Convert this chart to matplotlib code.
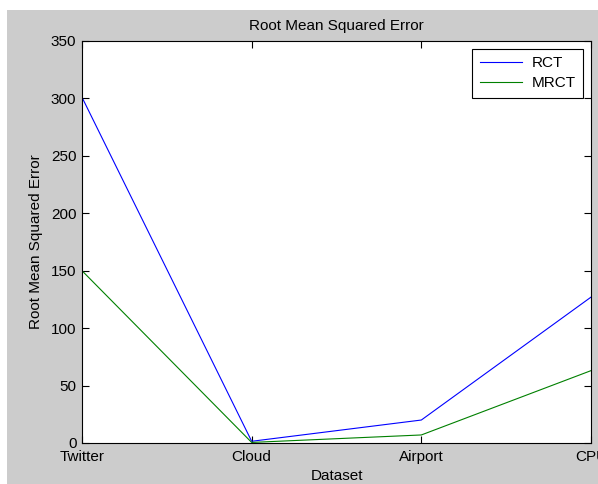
import matplotlib
matplotlib.use("Agg")
import matplotlib.pyplot as plt
from matplotlib.patches import Rectangle

datasets = ["Twitter", "Cloud", "Airport", "CPU"]
rct = [301, 1.5, 20, 127]
mrct = [150, 0.5, 7, 63]
yticks = [0, 50, 100, 150, 200, 250, 300, 350]

plt.rcParams['font.family'] = ['Liberation Sans', 'DejaVu Sans']
W, H = 598, 484
fig = plt.figure(figsize=(W/100, H/100), dpi=100, facecolor='white')
fig.patches.append(Rectangle((7/W, 0), 1 - 7/W, (H-10)/H, transform=fig.transFigure,
                             facecolor='#cccccc', edgecolor='none', zorder=-10))

ax = fig.add_axes([82/W, (H-443)/H, 509/W, 402/H])
x = list(range(len(datasets)))
ax.plot(x, rct, color='#0000ff', lw=0.8, label='RCT')
ax.plot(x, mrct, color='#008000', lw=0.8, label='MRCT')
ax.set_xlim(0, 3)
ax.set_ylim(0, 350)
ax.set_xticks(x)
ax.set_xticklabels(datasets)
ax.set_yticks(yticks)
ax.tick_params(direction='in', top=True, right=True, labelsize=11, length=5, width=0.8)
ax.tick_params(axis='x', pad=5)
ax.tick_params(axis='y', pad=4)
for s in ax.spines.values():
    s.set_linewidth(0.8)
ax.set_title('Root Mean Squared Error', fontsize=11, pad=8)
ax.set_xlabel('Dataset', fontsize=11, labelpad=4)
ax.set_ylabel('Root Mean Squared Error', fontsize=11, labelpad=6)
leg = ax.legend(loc='upper right', fontsize=11, fancybox=False, framealpha=1,
                edgecolor='black', borderaxespad=0.5, handlelength=2.8,
                handletextpad=0.6, borderpad=0.5, labelspacing=0.4)
leg.get_frame().set_linewidth(0.8)
fig.savefig('out.png', dpi=100, facecolor=fig.get_facecolor())
